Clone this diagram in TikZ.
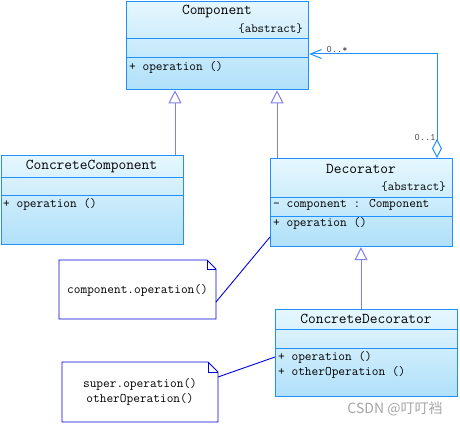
\documentclass[tikz,border=0pt]{standalone}
\usepackage{fontspec}
\newfontfamily\cjk{Noto Sans CJK SC}
\usetikzlibrary{arrows.meta}
\definecolor{bord}{RGB}{30,144,255}
\definecolor{inhc}{RGB}{128,128,235}
\definecolor{notec}{RGB}{0,0,225}
\definecolor{ftop}{RGB}{230,247,254}
\definecolor{fbot}{RGB}{176,224,249}
\definecolor{wm}{RGB}{165,165,165}
\begin{document}
\begin{tikzpicture}[x=1pt,y=-1pt,
  classbox/.style={draw=bord, line width=1.2pt, top color=ftop, bottom color=fbot, rectangle, inner sep=0pt, anchor=north west},
  sepline/.style={draw=bord, line width=1pt},
  titletxt/.style={font=\ttfamily\fontsize{15}{17}\selectfont, inner sep=0pt},
  bodytxt/.style={font=\ttfamily\fontsize{13}{15}\selectfont, inner sep=0pt, anchor=west},
  abstxt/.style={font=\ttfamily\fontsize{12.5}{14}\selectfont, inner sep=0pt, anchor=east},
  multtxt/.style={font=\ttfamily\fontsize{10}{12}\selectfont, inner sep=0pt, text=black!75},
  inherit/.style={draw=inhc, line width=1pt, -{Triangle[open, width=13pt, length=13pt, fill=white]}},
  notebox/.style={draw=none, rectangle, inner sep=0pt, anchor=north west},
  noteline/.style={draw=notec, line width=0.9pt},
  notetxt/.style={font=\ttfamily\fontsize{13}{15}\selectfont, inner sep=0pt, align=center}
]
\useasboundingbox (0,0) rectangle (460,425);

% ---- Component ----
\node[classbox, minimum width=182pt, minimum height=88.5pt] (comp) at (126,0.6) {};
\draw[sepline] (126,39) -- (308,39);
\draw[sepline] (126,58) -- (308,58);
\node[titletxt] (compt) at (217,11) {Component};
\node[abstxt] (compa) at (303,29) {\{abstract\}};
\node[bodytxt] (compo) at (129,67) {+ operation ()};

% ---- ConcreteComponent ----
\node[classbox, minimum width=182.5pt, minimum height=89pt] (cc) at (0.6,155) {};
\draw[sepline] (0.6,177) -- (183,177);
\draw[sepline] (0.6,195) -- (183,195);
\node[titletxt] (cct) at (91.5,166) {ConcreteComponent};
\node[bodytxt] (cco) at (3,204) {+ operation ()};

% ---- Decorator ----
\node[classbox, minimum width=182pt, minimum height=88pt] (dec) at (270,158) {};
\draw[sepline] (270,197) -- (452,197);
\draw[sepline] (270,216) -- (452,216);
\node[titletxt] (dect) at (361,169) {Decorator};
\node[abstxt] (deca) at (446,187) {\{abstract\}};
\node[bodytxt] (decf) at (273,205) {- component : Component};
\node[bodytxt] (deco) at (273,223) {+ operation ()};

% ---- ConcreteDecorator ----
\node[classbox, minimum width=182pt, minimum height=87pt] (cd) at (275,309) {};
\draw[sepline] (275,329) -- (457,329);
\draw[sepline] (275,348) -- (457,348);
\node[titletxt] (cdt) at (366,319) {ConcreteDecorator};
\node[bodytxt] (cdo1) at (278,357) {+ operation ()};
\node[bodytxt] (cdo2) at (278,372) {+ otherOperation ()};

% ---- Notes ----
\node[notebox, minimum width=157pt, minimum height=59pt] (n1) at (59,260) {};
\draw[noteline] (59,260) -- (207,260) -- (216,269) -- (216,319) -- (59,319) -- cycle;
\draw[noteline] (207,260) -- (207,269) -- (216,269);
\node[notetxt] (n1t) at (137.5,290) {component.operation()};

\node[notebox, minimum width=156pt, minimum height=60pt] (n2) at (62,362) {};
\draw[noteline] (62,362) -- (208,362) -- (218,372) -- (218,422) -- (62,422) -- cycle;
\draw[noteline] (208,362) -- (208,372) -- (218,372);
\node[notetxt] (n2t1) at (140,384) {super.operation()};
\node[notetxt] (n2t2) at (140,399) {otherOperation()};

% ---- helper coordinates ----
\coordinate (ccx) at (175,0);
\coordinate (dx) at (277,0);
\coordinate (cdx) at (361,0);
\coordinate (ax) at (437,0);
\coordinate (ay) at (0,54);
\coordinate (n1a) at (216,302);
\coordinate (d1a) at (0,237);
\coordinate (n2a) at (218,377);
\coordinate (c2a) at (0,357);

% ---- inheritance ----
\draw[inherit] (cc.north -| ccx) -- (comp.south -| ccx);
\draw[inherit] (dec.north -| dx) -- (comp.south -| dx);
\draw[inherit] (cd.north -| cdx) -- (dec.south -| cdx);

% ---- aggregation ----
\draw[draw=bord, line width=1pt, {Diamond[open, fill=white, width=10pt, length=19pt]}-{Straight Barb[length=11pt, width=9pt]}]
  (dec.north -| ax) |- (ay -| comp.east);
\node[multtxt] (m1) at (337,49) {0..*};
\node[multtxt] (m2) at (425,137) {0..1};

% ---- note links ----
\draw[noteline] (n1a) -- (dec.west |- d1a);
\draw[noteline] (n2a) -- (cd.west |- c2a);

% ---- watermark ----
\node[font=\cjk\fontsize{14}{16}\selectfont, text=wm, inner sep=0pt] (wmk) at (395,409) {CSDN @叮叮裆};
\end{tikzpicture}
\end{document}
